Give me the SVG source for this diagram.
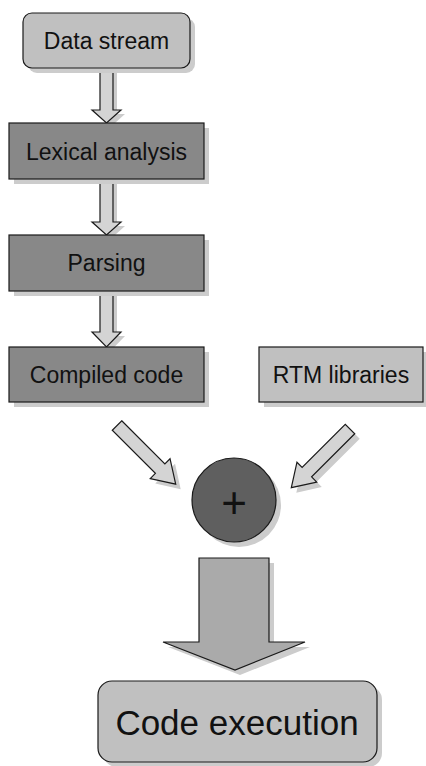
<svg xmlns="http://www.w3.org/2000/svg" width="426" height="766" viewBox="0 0 426 766">
  <style>
    .shadow { fill: #cccccc; stroke: none; }
    .box { stroke: #1a1a1a; stroke-width: 1.2; }
    .light { fill: #c0c0c0; }
    .dark { fill: #888888; }
    .arrow { fill: #d4d4d4; stroke: #1a1a1a; stroke-width: 1.2; stroke-linejoin: miter; }
    .label { font-family: "Liberation Sans", Arial, Helvetica, sans-serif; fill: #111111; text-anchor: middle; }
  </style>
  <defs>
    <!-- straight block arrow pointing along +x, tail at origin, tip at x=83 -->
    <polygon id="diag-arrow" points="0,-6.7 61,-6.7 61,-14 83,0 61,14 61,6.7 0,6.7"/>
  </defs>

  <!-- connectors -->
  <g id="connectors">
    <!-- Data stream -> Lexical analysis -->
    <polygon class="shadow" points="104,72 117,72 117,114 125,114 110.5,127 96,114 104,114"/>
    <polygon class="arrow" points="100,68 113,68 113,110 121,110 106.5,123 92,110 100,110"/>
    <!-- Lexical analysis -> Parsing -->
    <polygon class="shadow" points="104,183 117,183 117,226 125,226 110.5,239 96,226 104,226"/>
    <polygon class="arrow" points="100,179 113,179 113,222 121,222 106.5,235 92,222 100,222"/>
    <!-- Parsing -> Compiled code -->
    <polygon class="shadow" points="104,295 117,295 117,336 125,336 110.5,351 96,336 104,336"/>
    <polygon class="arrow" points="100,291 113,291 113,332 121,332 106.5,347 92,332 100,332"/>
    <!-- Compiled code -> combine -->
    <use href="#diag-arrow" class="shadow" transform="translate(122,430.5) rotate(45)"/>
    <use href="#diag-arrow" class="arrow" transform="translate(117,425.5) rotate(45)"/>
    <!-- RTM libraries -> combine -->
    <use href="#diag-arrow" class="shadow" transform="translate(355,434) rotate(135)"/>
    <use href="#diag-arrow" class="arrow" transform="translate(350,429) rotate(135)"/>
    <!-- combine -> Code execution -->
    <polygon class="shadow" points="204,563 274,563 274,647 310,647 240,675 168,647 204,647"/>
    <polygon points="199,558 269,558 269,642 305,642 235,670 163,642 199,642" fill="#aaaaaa" stroke="#1a1a1a" stroke-width="1.2"/>
  </g>

  <g id="data-stream">
    <rect class="shadow" x="28" y="18" width="167" height="55" rx="9"/>
    <rect class="box light" x="23" y="13" width="167" height="55" rx="9"/>
    <text class="label" x="106.5" y="48.8" font-size="23">Data stream</text>
  </g>

  <g id="lexical-analysis">
    <rect class="shadow" x="14" y="128" width="195" height="56"/>
    <rect class="box dark" x="9" y="123" width="195" height="56"/>
    <text class="label" x="106.5" y="159.5" font-size="23">Lexical analysis</text>
  </g>

  <g id="parsing">
    <rect class="shadow" x="14" y="240" width="195" height="56"/>
    <rect class="box dark" x="9" y="235" width="195" height="56"/>
    <text class="label" x="106.5" y="271.3" font-size="23">Parsing</text>
  </g>

  <g id="compiled-code">
    <rect class="shadow" x="14" y="352" width="195" height="55"/>
    <rect class="box dark" x="9" y="347" width="195" height="55"/>
    <text class="label" x="106.5" y="383" font-size="23">Compiled code</text>
  </g>

  <g id="rtm-libraries">
    <rect class="shadow" x="264" y="352" width="164" height="55"/>
    <rect class="box light" x="259" y="347" width="164" height="55"/>
    <text class="label" x="341" y="383" font-size="23">RTM libraries</text>
  </g>

  <g id="combine">
    <circle class="shadow" cx="239" cy="505" r="42"/>
    <circle class="box" cx="234" cy="500" r="42" fill="#5f5f5f"/>
    <text class="label" x="234" y="518" font-size="44">+</text>
  </g>

  <g id="code-execution">
    <rect class="shadow" x="103" y="686" width="279" height="81" rx="14"/>
    <rect class="box light" x="98" y="681" width="279" height="81" rx="14"/>
    <text class="label" x="237" y="735" font-size="35">Code execution</text>
  </g>
</svg>
